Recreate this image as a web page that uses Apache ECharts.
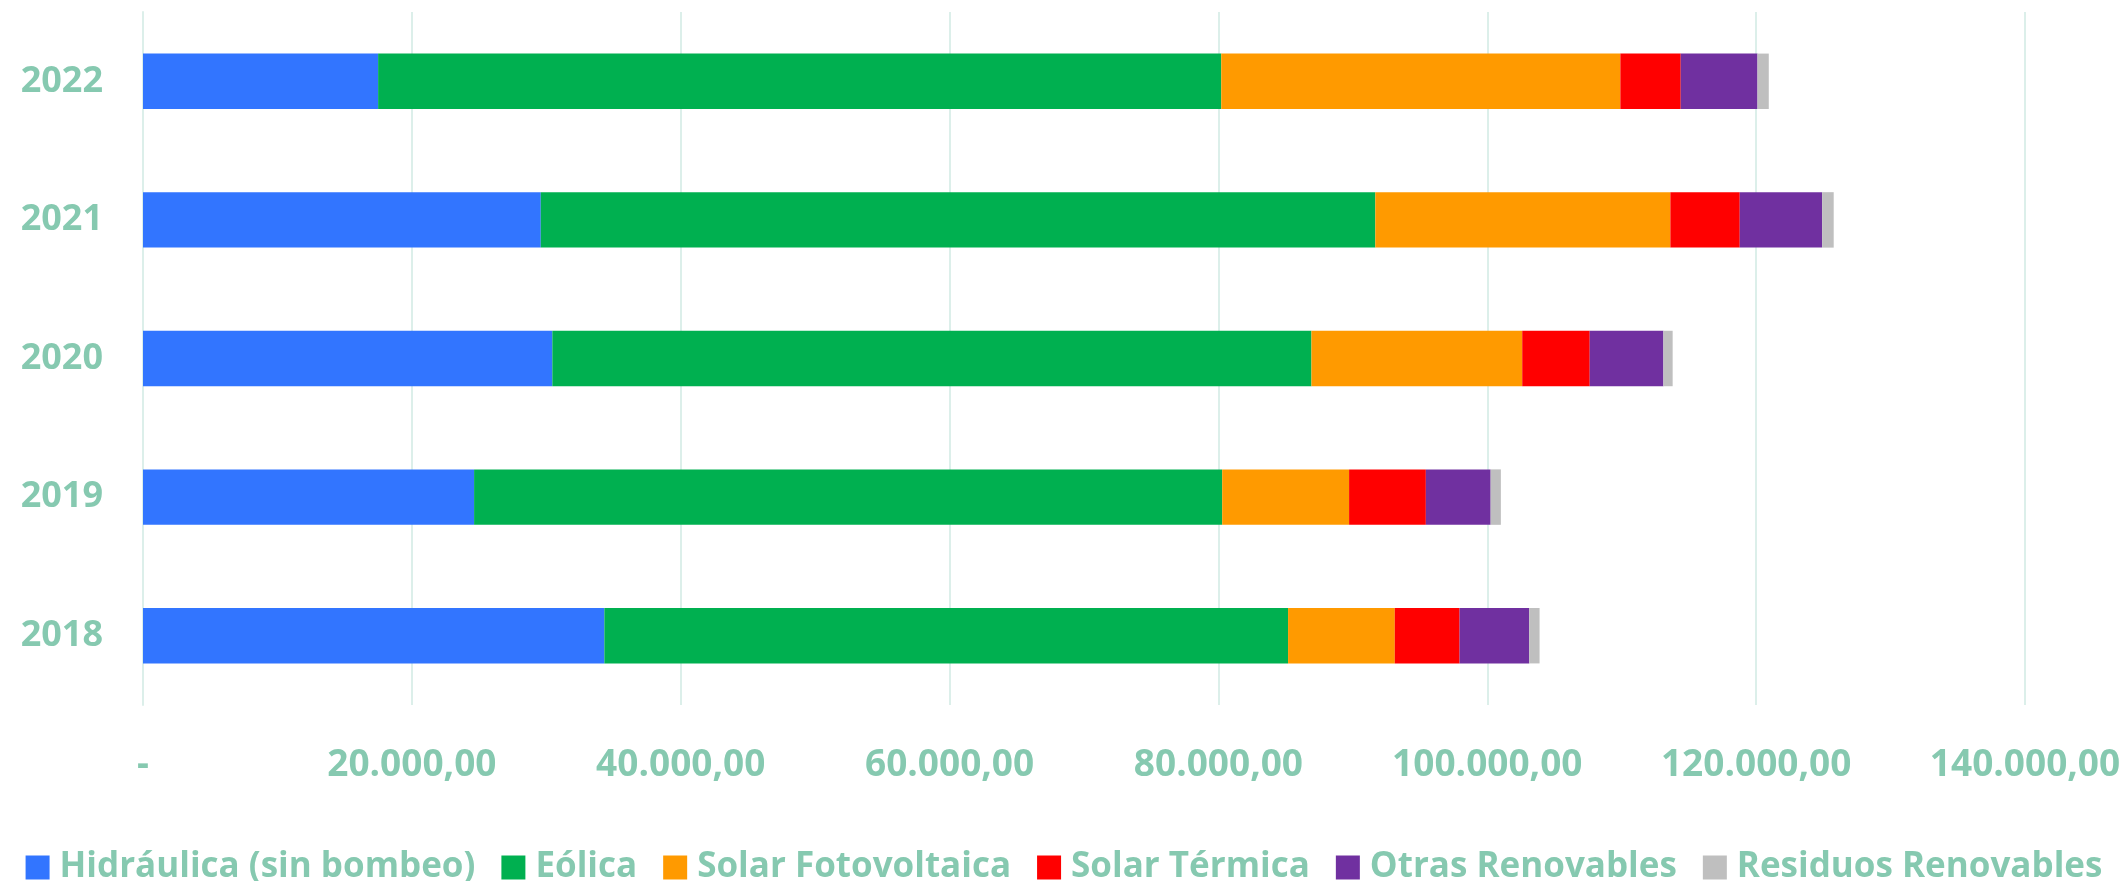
<!DOCTYPE html>
<html>
<head>
<meta charset="utf-8">
<script src="https://cdn.jsdelivr.net/npm/echarts@6/dist/echarts.min.js"></script>
<style>
html,body{margin:0;padding:0;background:#fff;}
#chart{width:2128px;height:881px;}
</style>
</head>
<body>
<div id="chart"></div>
<script>
const years = ['2018', '2019', '2020', '2021', '2022'];
const hidraulica = [34320, 24630, 30450, 29590, 17490];
const eolica = [50860, 55650, 56470, 62080, 62720];
const solarFV = [7940, 9440, 15680, 21950, 29690];
const solarTermica = [4820, 5710, 5020, 5160, 4490];
const otras = [5180, 4820, 5480, 6130, 5710];
const residuos = [770, 760, 690, 860, 840];
const seriesNames = ['Hidráulica (sin bombeo)', 'Eólica', 'Solar Fotovoltaica', 'Solar Térmica', 'Otras Renovables', 'Residuos Renovables'];
const seriesColors = ['#3275FF', '#00B050', '#FF9A00', '#FF0000', '#7030A0', '#BFBFBF'];
const xTicks = { min: 0, max: 140000, interval: 20000 };

const textColor = '#86C9B0';
const allData = [hidraulica, eolica, solarFV, solarTermica, otras, residuos];

function fmt(v) {
  if (v === 0) return '-';
  const s = String(Math.round(v)).replace(/\B(?=(\d{3})+(?!\d))/g, '.');
  return s + ',00';
}

const chart = echarts.init(document.getElementById('chart'), null, { renderer: 'canvas' });
chart.setOption({
  animation: false,
  backgroundColor: '#ffffff',
  grid: { left: 143, right: 103, top: 12, bottom: 176, containLabel: false },
  legend: {
    data: seriesNames,
    top: 845,
    left: 'center',
    itemWidth: 24,
    itemHeight: 24,
    itemGap: 26,
    icon: 'rect',
    textStyle: { color: textColor, fontFamily: 'Open Sans', fontWeight: 'bold', fontSize: 35, padding: [0, 0, 0, 5] }
  },
  xAxis: {
    type: 'value',
    min: xTicks.min, max: xTicks.max, interval: xTicks.interval,
    axisLine: { show: false },
    axisTick: { show: false },
    splitLine: { show: true, lineStyle: { color: '#DCEFEA', width: 2 } },
    axisLabel: {
      color: textColor, fontFamily: 'Open Sans', fontWeight: 'bold', fontSize: 37,
      margin: 42, formatter: fmt
    }
  },
  yAxis: {
    type: 'category',
    data: years,
    axisLine: { show: true, lineStyle: { color: '#DCEFEA', width: 2 } },
    axisTick: { show: false },
    axisLabel: { color: textColor, fontFamily: 'Open Sans', fontWeight: 'bold', fontSize: 36, margin: 40 }
  },
  series: seriesNames.map((name, i) => ({
    name: name,
    type: 'bar',
    stack: 'total',
    barWidth: '40%',
    itemStyle: { color: seriesColors[i] },
    data: allData[i]
  }))
});
</script>
</body>
</html>
